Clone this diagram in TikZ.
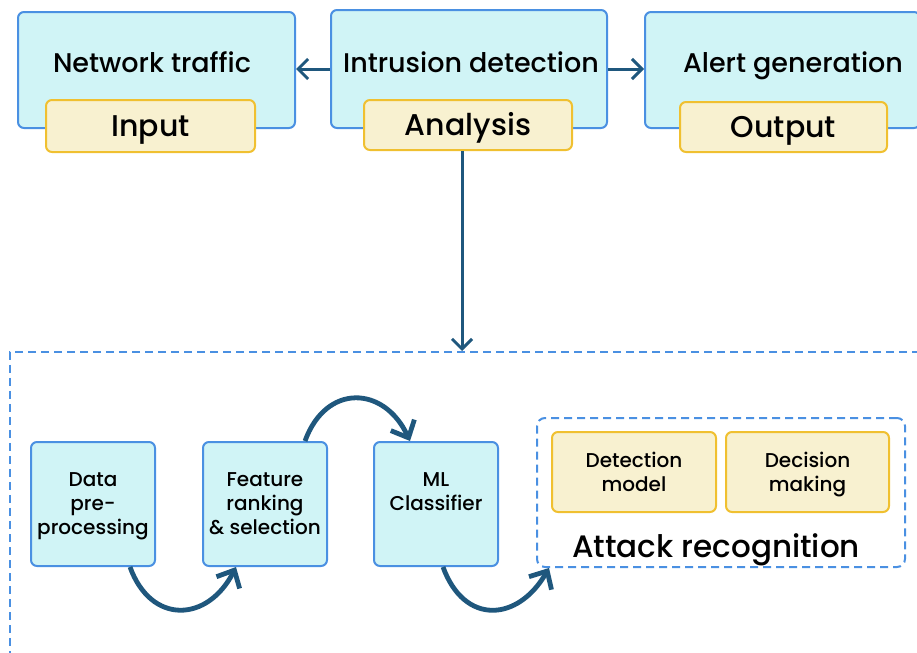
\documentclass[tikz,border=0pt]{standalone}
\usepackage{fontspec}
\setmainfont{Poppins}[UprightFont={* Medium}]
\usepackage{tikz}
\usetikzlibrary{arrows.meta, positioning, calc}
\definecolor{boxcyan}{RGB}{208,244,246}
\definecolor{boxblue}{RGB}{74,144,226}
\definecolor{boxcream}{RGB}{248,241,208}
\definecolor{boxgold}{RGB}{240,192,48}
\definecolor{arrowblue}{RGB}{31,87,125}
\tikzset{
  cbox/.style    = {rectangle, draw=boxblue, fill=boxcyan, line width=1pt,
                    rounded corners=3pt, align=center, inner sep=0pt},
  ybox/.style    = {rectangle, draw=boxgold, fill=boxcream, line width=1pt,
                    rounded corners=3pt, align=center, inner sep=0pt},
  dbox/.style    = {rectangle, draw=boxblue, line width=1pt,
                    dash pattern=on 4pt off 2.5pt},
  arr/.style     = {-{Straight Barb[length=5pt, width=10pt]},
                    draw=arrowblue, line width=1.5pt},
  carr/.style    = {-{Straight Barb[length=7pt, width=13pt]},
                    draw=arrowblue, line width=2.4pt, looseness=1.5},
  toptxt/.style  = {font=\fontsize{13.5}{16}\selectfont, inner sep=0pt},
  tagtxt/.style  = {font=\fontsize{15}{18}\selectfont},
  tagfit/.style  = {text height=10.5pt, text depth=0pt},
  steptxt/.style = {font=\fontsize{10}{12}\selectfont, text depth=0pt},
}

\begin{document}
\begin{tikzpicture}[x=0.5pt, y=0.5pt]
  \clip (0,0) rectangle (917,-653);

  % top row: stages
  \node[cbox, minimum width=138.5pt, minimum height=58pt] (traffic) at (156.5,-70) {};
  \node[cbox, minimum width=138pt,   minimum height=59pt] (detect)  at (469,-69)   {};
  \node[cbox, minimum width=137.5pt, minimum height=58pt] (alert)   at (782.5,-70) {};
  \node[toptxt, anchor=base] (trafficlbl) at (152,-72) {Network traffic};
  \node[toptxt, anchor=base] (detectlbl)  at (471,-72) {Intrusion detection};
  \node[toptxt, anchor=base] (alertlbl)   at (793,-72) {Alert generation};

  \node[ybox, tagtxt, tagfit, minimum width=104.5pt, minimum height=26pt] (input)    at (150.5,-126) {Input};
  \node[ybox, tagtxt, tagfit, minimum width=104pt,   minimum height=25pt] (analysis) at (468,-125)   {Analysis};
  \node[ybox, tagtxt, tagfit, minimum width=103.5pt, minimum height=25pt] (output)   at (783.5,-127) {Output};

  \draw[arr] (detect.west) -- (detect.west -| traffic.east);
  \draw[arr] (detect.east) -- (detect.east -| alert.west);

  % lower part: analysis pipeline
  \node[dbox, minimum width=460pt, minimum height=159pt] (frame) at (470,-511) {};
  \draw[arr] ([xshift=-3pt]analysis.south) -- ([xshift=-3pt]analysis.south |- frame.north);

  \node[cbox, steptxt, minimum width=62pt, minimum height=62pt] (prep) at (93,-504)
    {Data\\pre-\\processing};
  \node[cbox, steptxt, minimum width=62pt, minimum height=62pt] (feat) at (265,-504)
    {Feature\\ranking\\\& selection};
  \node[cbox, steptxt, minimum width=62pt, minimum height=62pt] (ml)   at (436,-504)
    {ML\\Classifier\\~};

  \node[dbox, rounded corners=4pt, minimum width=184pt, minimum height=74.5pt] (attack) at (721,-492.5) {};
  \node[ybox, steptxt, minimum width=82pt,   minimum height=40pt] (detmodel) at (634,-472)   {Detection\\model};
  \node[ybox, steptxt, minimum width=81.5pt, minimum height=40pt] (decision) at (807.5,-472) {Decision\\making};
  \node[tagtxt, anchor=base, inner sep=0pt, font=\fontsize{15.5}{18}\selectfont] (attacklbl) at (716,-557) {Attack recognition};

  \draw[carr] ([xshift=18.5pt]prep.south) to[out=-70, in=-117] ([xshift=-14.5pt]feat.south);
  \draw[carr] ([xshift=20pt]feat.north)   to[out=70,  in=115]  ([xshift=-13pt]ml.north);
  \draw[carr] ([xshift=3.5pt]ml.south)    to[out=-70, in=-120] ([xshift=6.5pt]attack.south west);
\end{tikzpicture}
\end{document}
